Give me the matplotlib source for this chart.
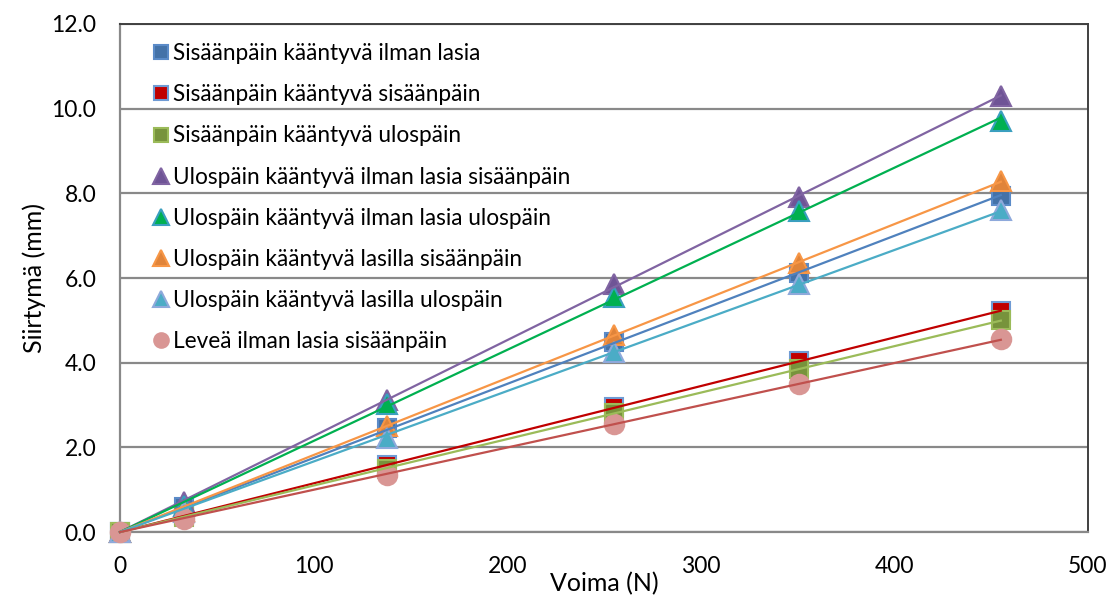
import numpy as np
import matplotlib
matplotlib.use("Agg")
import matplotlib.pyplot as plt

plt.rcParams['font.family'] = ['Lato', 'DejaVu Sans']

# force in newtons, displacement in mm
voima = [0, 33, 138, 255, 351, 455]

sarjat = [
    "Sisäänpäin kääntyvä ilman lasia",
    "Sisäänpäin kääntyvä sisäänpäin",
    "Sisäänpäin kääntyvä ulospäin",
    "Ulospäin kääntyvä ilman lasia sisäänpäin",
    "Ulospäin kääntyvä ilman lasia ulospäin",
    "Ulospäin kääntyvä lasilla sisäänpäin",
    "Ulospäin kääntyvä lasilla ulospäin",
    "Leveä ilman lasia sisäänpäin",
]

sis_ilman = [0, 0.60, 2.45, 4.50, 6.12, 7.94]
sis_sis = [0, 0.40, 1.58, 2.95, 4.03, 5.22]
sis_ulos = [0, 0.35, 1.50, 2.80, 3.85, 5.00]
ulos_ilman_sis = [0, 0.72, 3.12, 5.85, 7.92, 10.30]
ulos_ilman_ulos = [0, 0.62, 3.02, 5.55, 7.58, 9.72]
ulos_lasi_sis = [0, 0.50, 2.50, 4.65, 6.35, 8.30]
ulos_lasi_ulos = [0, 0.48, 2.22, 4.25, 5.85, 7.60]
levea = [0, 0.30, 1.35, 2.55, 3.50, 4.55]

arvot = [sis_ilman, sis_sis, sis_ulos, ulos_ilman_sis,
         ulos_ilman_ulos, ulos_lasi_sis, ulos_lasi_ulos, levea]

# marker, fill, edge, trendline colour
tyylit = [
    ('s', '#4472A8', '#5B8BC8', '#4F81BD'),
    ('s', '#C00000', '#6F9BD4', '#C00000'),
    ('s', '#77933C', '#9BBB59', '#9BBB59'),
    ('^', '#6F5496', '#8064A2', '#8064A2'),
    ('^', '#00B050', '#3A9FBF', '#00B050'),
    ('^', '#E0843A', '#F79646', '#F79646'),
    ('^', '#4BACC6', '#8EA9DB', '#4BACC6'),
    ('o', '#D99694', '#D99694', '#C0504D'),
]

fig = plt.figure(figsize=(11.17, 6.03), dpi=100)
ax = fig.add_axes([0.1074, 0.1177, 0.8666, 0.8425])

x = np.array(voima, dtype=float)
kx = np.array([0, max(voima)], dtype=float)
for nimi, y, (m, fc, ec, lc) in zip(sarjat, arvot, tyylit):
    y = np.array(y)
    ms = 13 if m == 's' else (15 if m == '^' else 14)
    ax.plot(x, y, linestyle='none', marker=m, markersize=ms,
            markerfacecolor=fc, markeredgecolor=ec, markeredgewidth=1.5,
            label=nimi, zorder=3, clip_on=False)
    # linear trendline through the origin
    k = np.sum(x * y) / np.sum(x * x)
    ax.plot(kx, k * kx, color=lc, linewidth=1.6, zorder=4, clip_on=False)

ax.set_xlim(0, 500)
ax.set_ylim(0, 12)
ax.set_xticks(np.arange(0, 501, 100))
ax.set_yticks(np.arange(0, 12.1, 2))
ax.set_yticklabels([f"{v:.1f}" for v in np.arange(0, 12.1, 2)])
ax.tick_params(length=0, labelsize=16.5, colors='#000000')
ax.tick_params(axis='y', pad=17)
ax.tick_params(axis='x', pad=17)
ax.yaxis.grid(True, color='#898989', linewidth=1.6)
ax.set_axisbelow(True)

for s in ['left', 'bottom']:
    ax.spines[s].set_color('#898989')
    ax.spines[s].set_linewidth(1.6)
for s in ['top', 'right']:
    ax.spines[s].set_color('#404040')
    ax.spines[s].set_linewidth(1.4)

ax.set_xlabel("Voima (N)", fontsize=18, labelpad=-3)
ax.set_ylabel("Siirtymä (mm)", fontsize=18, labelpad=4)

leg = ax.legend(loc='upper left', bbox_to_anchor=(0.012, 0.998), frameon=False,
                fontsize=16.3, handletextpad=0.05, labelspacing=0.89,
                borderpad=0.3, markerscale=0.75, handlelength=1.0)
leg.set_zorder(5)

fig.savefig("out.png", dpi=100)
